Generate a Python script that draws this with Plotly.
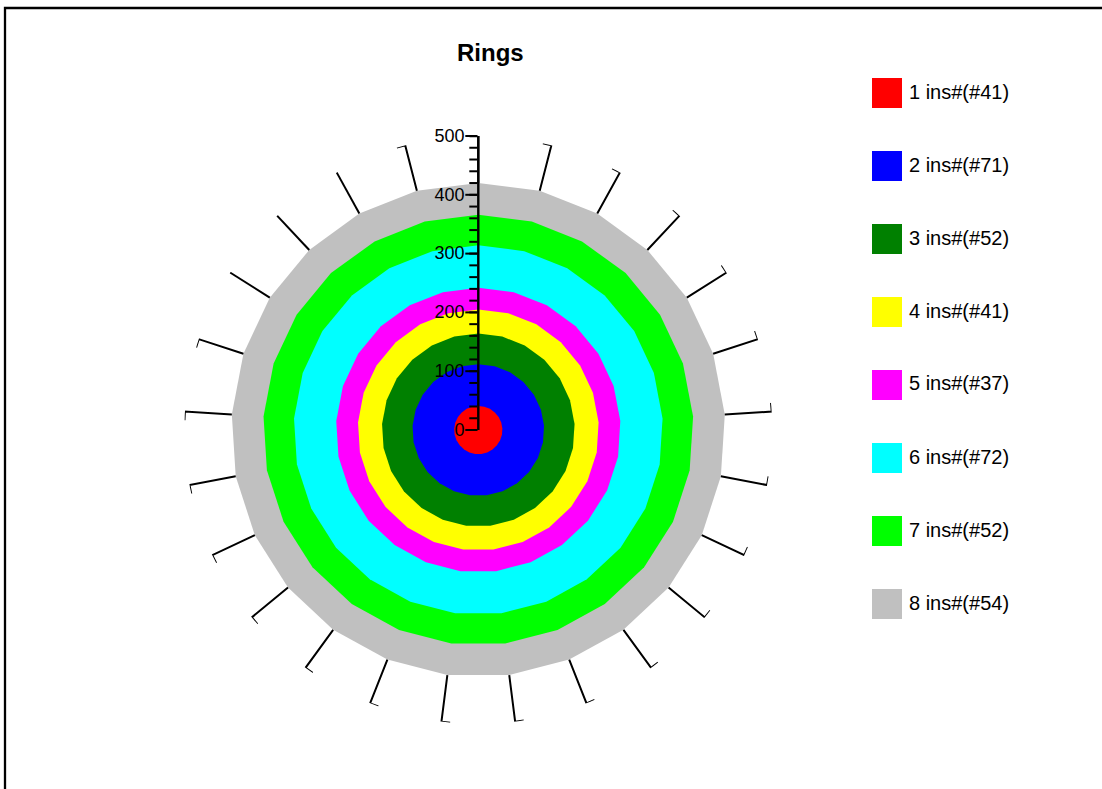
import plotly.graph_objects as go
import numpy as np

# ---------------- data ----------------
chart_title = "Rings"
ring_ids = [1, 2, 3, 4, 5, 6, 7, 8]
ring_counts = [41, 71, 52, 41, 37, 72, 52, 54]
ring_colors = ["#FF0000", "#0000FF", "#008000", "#FFFF00",
               "#FF00FF", "#00FFFF", "#00FF00", "#C0C0C0"]
n_sectors = 25
radial_max = 500
radial_major = [0, 100, 200, 300, 400, 500]
radial_minor = list(range(0, 501, 20))

legend_labels = [f"{i} ins#(#{c})" for i, c in zip(ring_ids, ring_counts)]
outer_r = np.cumsum(ring_counts).tolist()
theta = [k * 360.0 / n_sectors for k in range(n_sectors)]
theta_closed = theta + [theta[0]]

W, H = 1102, 789
FONT = "Arial, Liberation Sans, sans-serif"

# ---------------- geometry (pixels) ----------------
cx, cy, rad = 478.3, 430.0, 294.0
dom_x = [(cx - rad) / W, (cx + rad) / W]
dom_y = [(H - cy - rad) / H, (H - cy + rad) / H]

fig = go.Figure()

# rings: filled polygons, outermost first
for i in reversed(range(len(ring_counts))):
    fig.add_trace(go.Scatterpolar(
        r=[outer_r[i]] * (n_sectors + 1), theta=theta_closed,
        mode="lines", fill="toself", fillcolor=ring_colors[i],
        line=dict(width=0, color=ring_colors[i]),
        name=legend_labels[i], showlegend=False, hoverinfo="skip",
        subplot="polar"))

# spokes with small hooks (hooks not drawn on the upper-left spokes)
hook_deg = 1.7
no_hook = {21, 22, 23}
sr, st = [], []
for k, t in enumerate(theta):
    if k in no_hook:
        sr += [outer_r[-1], radial_max, None]
        st += [t, t, None]
    else:
        sr += [outer_r[-1], radial_max, radial_max, None]
        st += [t, t, t - hook_deg, None]
fig.add_trace(go.Scatterpolar(
    r=sr, theta=st, mode="lines", line=dict(color="black", width=2),
    showlegend=False, hoverinfo="skip", subplot="polar"))

# dummy traces for the overlay polars (major ticks, labels)
for sp in ("polar2", "polar3"):
    fig.add_trace(go.Scatterpolar(r=[None], theta=[None], mode="lines",
                                  showlegend=False, hoverinfo="skip", subplot=sp))

common_ang = dict(rotation=90, direction="clockwise", visible=False)


def radial(**kw):
    base = dict(range=[0, radial_max], angle=90, side="counterclockwise",
                ticks="outside", tickwidth=2, tickcolor="black",
                showline=True, linewidth=2, linecolor="black",
                showgrid=False, layer="above traces")
    base.update(kw)
    return base


fig.update_layout(
    width=W, height=H,
    margin=dict(l=0, r=0, t=0, b=0),
    paper_bgcolor="white", plot_bgcolor="white",
    showlegend=False,
    font=dict(family=FONT, color="black"),
    polar=dict(domain=dict(x=dom_x, y=dom_y), bgcolor="rgba(0,0,0,0)",
               angularaxis=common_ang,
               radialaxis=radial(tickvals=radial_minor, showticklabels=False, ticklen=8)),
    polar2=dict(domain=dict(x=dom_x, y=dom_y), bgcolor="rgba(0,0,0,0)",
                angularaxis=common_ang,
                radialaxis=radial(tickvals=radial_major, showticklabels=False, ticklen=12)),
    polar3=dict(domain=dict(x=dom_x, y=dom_y), bgcolor="rgba(0,0,0,0)",
                angularaxis=common_ang,
                radialaxis=radial(tickvals=radial_major,
                                  ticktext=[str(v) for v in radial_major],
                                  ticklen=7, tickcolor="rgba(0,0,0,0)", tickangle=90,
                                  showline=False,
                                  tickfont=dict(size=18, family=FONT, color="black"))),
)

# title
fig.add_annotation(text="<b>" + chart_title + "</b>", xref="paper", yref="paper",
                   x=490 / W, y=1 - 52 / H, xanchor="center", yanchor="middle",
                   showarrow=False, font=dict(size=24, family=FONT, color="black"))

# frame
fig.add_shape(type="rect", xref="paper", yref="paper",
              x0=5 / W, x1=1.5, y0=-0.5, y1=1 - 8 / H,
              line=dict(color="black", width=2.3), fillcolor="rgba(0,0,0,0)")

# manual legend
leg_x0, leg_top, leg_step, leg_size = 872, 78, 73.0, 30
for i, (lab, col) in enumerate(zip(legend_labels, ring_colors)):
    top = leg_top + i * leg_step
    fig.add_shape(type="rect", xref="paper", yref="paper",
                  x0=leg_x0 / W, x1=(leg_x0 + leg_size) / W,
                  y0=1 - (top + leg_size) / H, y1=1 - top / H,
                  line=dict(width=0), fillcolor=col)
    fig.add_annotation(text=lab, xref="paper", yref="paper",
                       x=(leg_x0 + leg_size + 5) / W, y=1 - (top + leg_size / 2 - 1.5) / H,
                       xanchor="left", yanchor="middle", showarrow=False,
                       font=dict(size=20, family=FONT, color="black"))

fig.write_html("out.html", config={"displayModeBar": False},
               post_script="document.body.style.margin='0';")
